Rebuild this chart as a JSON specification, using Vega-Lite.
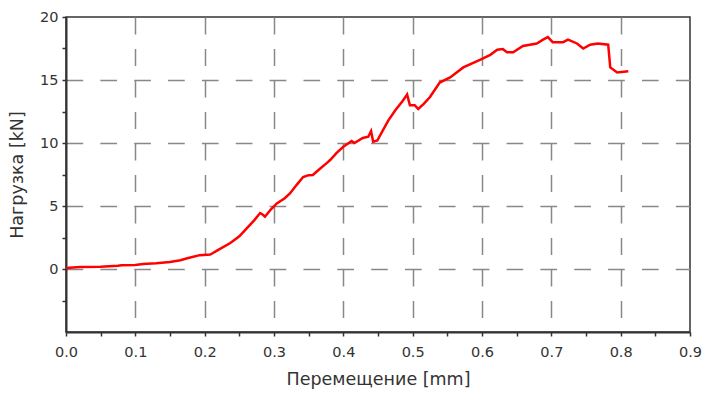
{
  "$schema": "https://vega.github.io/schema/vega-lite/v6.json",
  "width": 624,
  "height": 315,
  "autosize": {"type": "none"},
  "padding": {"left": 66, "top": 17, "right": 14, "bottom": 62},
  "background": "white",
  "config": {
    "view": {"stroke": "#333", "strokeWidth": 1.5},
    "axis": {
      "labelFont": "DejaVu Sans",
      "titleFont": "DejaVu Sans",
      "labelFontSize": 14.5,
      "titleFontSize": 17.5,
      "titleFontWeight": "normal",
      "labelColor": "#333",
      "titleColor": "#333",
      "domainColor": "#333",
      "domainWidth": 2,
      "tickColor": "#333",
      "tickWidth": 1.5,
      "tickSize": 4,
      "gridColor": "#888",
      "gridWidth": 1.5,
      "labelFlush": false,
      "labelOverlap": false
    }
  },
  "data": {
    "values": [
      {"x": 0, "y": 0.08}, {"x": 0.02, "y": 0.15}, {"x": 0.05, "y": 0.18}, {"x": 0.075, "y": 0.25},
      {"x": 0.08, "y": 0.3}, {"x": 0.1, "y": 0.32}, {"x": 0.111, "y": 0.4}, {"x": 0.13, "y": 0.45},
      {"x": 0.15, "y": 0.55}, {"x": 0.165, "y": 0.7}, {"x": 0.175, "y": 0.85}, {"x": 0.193, "y": 1.1},
      {"x": 0.208, "y": 1.15}, {"x": 0.212, "y": 1.27}, {"x": 0.219, "y": 1.5}, {"x": 0.237, "y": 2.06},
      {"x": 0.25, "y": 2.6}, {"x": 0.261, "y": 3.25}, {"x": 0.272, "y": 3.9}, {"x": 0.28, "y": 4.44},
      {"x": 0.284, "y": 4.3}, {"x": 0.287, "y": 4.15}, {"x": 0.295, "y": 4.7}, {"x": 0.304, "y": 5.2},
      {"x": 0.315, "y": 5.6}, {"x": 0.323, "y": 6.0}, {"x": 0.333, "y": 6.7}, {"x": 0.342, "y": 7.3},
      {"x": 0.35, "y": 7.45}, {"x": 0.356, "y": 7.46}, {"x": 0.365, "y": 7.9}, {"x": 0.376, "y": 8.4},
      {"x": 0.381, "y": 8.65}, {"x": 0.39, "y": 9.2}, {"x": 0.4, "y": 9.7}, {"x": 0.412, "y": 10.16},
      {"x": 0.416, "y": 10.0}, {"x": 0.428, "y": 10.4}, {"x": 0.436, "y": 10.5}, {"x": 0.44, "y": 10.95},
      {"x": 0.443, "y": 10.1}, {"x": 0.449, "y": 10.2}, {"x": 0.457, "y": 11.0}, {"x": 0.465, "y": 11.8},
      {"x": 0.475, "y": 12.6}, {"x": 0.485, "y": 13.3}, {"x": 0.492, "y": 13.85}, {"x": 0.496, "y": 13.0},
      {"x": 0.503, "y": 13.0}, {"x": 0.508, "y": 12.7}, {"x": 0.516, "y": 13.1}, {"x": 0.525, "y": 13.65},
      {"x": 0.539, "y": 14.8}, {"x": 0.554, "y": 15.2}, {"x": 0.573, "y": 16.0}, {"x": 0.597, "y": 16.6},
      {"x": 0.612, "y": 17.0}, {"x": 0.622, "y": 17.4}, {"x": 0.63, "y": 17.46}, {"x": 0.636, "y": 17.2},
      {"x": 0.645, "y": 17.2}, {"x": 0.659, "y": 17.7}, {"x": 0.679, "y": 17.9}, {"x": 0.688, "y": 18.2},
      {"x": 0.695, "y": 18.4}, {"x": 0.702, "y": 18.0}, {"x": 0.717, "y": 18.0}, {"x": 0.724, "y": 18.2},
      {"x": 0.737, "y": 17.9}, {"x": 0.746, "y": 17.5}, {"x": 0.756, "y": 17.8}, {"x": 0.767, "y": 17.9},
      {"x": 0.782, "y": 17.8}, {"x": 0.785, "y": 16.0}, {"x": 0.795, "y": 15.6}, {"x": 0.811, "y": 15.7}
    ]
  },
  "mark": {"type": "line", "color": "#ff0000", "strokeWidth": 2.5},
  "encoding": {
    "x": {
      "field": "x",
      "type": "quantitative",
      "scale": {"domain": [0, 0.9], "nice": false, "zero": false},
      "axis": {
        "title": "Перемещение [mm]",
        "values": [0, 0.05, 0.1, 0.15, 0.2, 0.25, 0.3, 0.35, 0.4, 0.45, 0.5, 0.55, 0.6, 0.65, 0.7, 0.75, 0.8, 0.85, 0.9],
        "format": ".1f",
        "labelExpr": "round(datum.value * 100) % 10 == 0 ? datum.label : ''",
        "labelPadding": 9,
        "titlePadding": 12,
        "gridDash": [17, 14.5],
        "gridOpacity": {"condition": {"test": "round(datum.value * 100) % 10 == 0 && datum.value > 0.01 && datum.value < 0.89", "value": 1}, "value": 0}
      }
    },
    "y": {
      "field": "y",
      "type": "quantitative",
      "scale": {"domain": [-5, 20], "nice": false, "zero": false},
      "axis": {
        "title": "Нагрузка [kN]",
        "values": [-2.5, 0, 2.5, 5, 7.5, 10, 12.5, 15, 17.5, 20],
        "labelExpr": "round(datum.value * 10) % 50 == 0 ? datum.label : ''",
        "labelPadding": 4,
        "titlePadding": 13,
        "gridDash": [16.7, 17.15],
        "gridOpacity": {"condition": {"test": "round(datum.value * 10) % 50 == 0 && datum.value < 19", "value": 1}, "value": 0}
      }
    }
  }
}
